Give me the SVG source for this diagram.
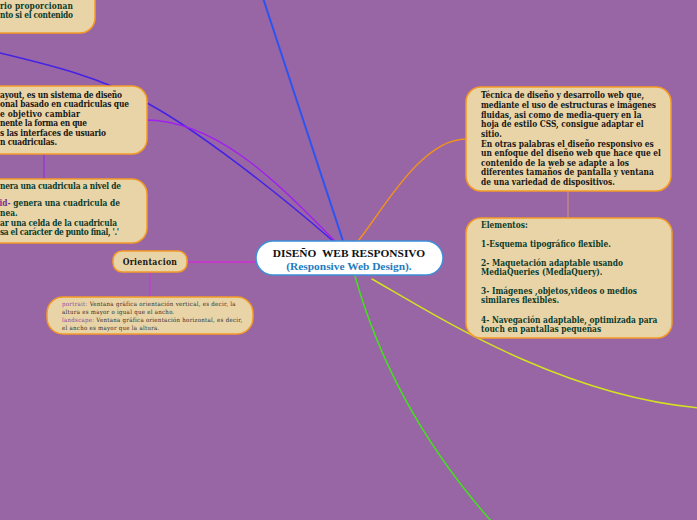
<svg xmlns="http://www.w3.org/2000/svg" width="697" height="520" viewBox="0 0 697 520">
<style>
.bg{fill:#9865a5}
.node{fill:#e9d4a7;stroke:#f39a26;stroke-width:1.5}
.t{font-family:"DejaVu Serif Condensed","DejaVu Serif",serif;font-stretch:condensed;font-weight:bold;font-size:8.3px}
.blk{fill:#161616}
.grn{fill:#0b3b2c}
.pur{fill:#7a2c8e}
.small{font-family:"DejaVu Serif Condensed","DejaVu Serif",serif;font-stretch:condensed;font-size:6px;letter-spacing:0.3px;fill:#2a2a2a}
.c{fill:none;stroke-linecap:round}
</style>
<rect class="bg" x="0" y="0" width="697" height="520"/>
<g id="connectors">
<path class="c" d="M343,241 Q300,110 263,-2" stroke="#2a55f0" stroke-width="2"/>
<path class="c" d="M0,53 C50,65 100,77 147,103 C197,130 273,189 333,241" stroke="#4422e6" stroke-width="1.5"/>
<path class="c" d="M145,120 C220,120 283,189 335,241" stroke="#a020ee" stroke-width="1.4"/>
<path class="c" d="M358,241 C380,215 420,139 466,139" stroke="#f0921e" stroke-width="1.4"/>
<path class="c" d="M355,276 C378,358 422,443 492,522" stroke="#44e020" stroke-width="1.5"/>
<path class="c" d="M372,279 C440,318 560,395 699,408" stroke="#d2e220" stroke-width="1.5"/>
<path class="c" d="M187,262 L257,262" stroke="#d22ed2" stroke-width="1.4"/>
<path class="c" d="M150,272 L150,297" stroke="#c040c6" stroke-width="1.2"/>
<path class="c" d="M44,154 L44,179" stroke="#9b30d6" stroke-width="1.2"/>
<path class="c" d="M568,191 L568,218" stroke="#d08c78" stroke-width="1.2"/>
</g>
<g id="node-top-left">
<rect class="node" x="-40" y="-30" width="135" height="63" rx="15"/>
<text class="t grn" x="0" y="9" textLength="73">rio proporcionan</text>
<text class="t grn" x="0" y="17.5" textLength="73">nto si el contenido</text>
</g>
<g id="node-grid">
<rect class="node" x="-40" y="86" width="187" height="68" rx="15"/>
<text class="t blk" x="0" y="97.5" textLength="122">ayout, es un sistema de diseño</text>
<text class="t blk" x="0" y="107" textLength="129">onal basado en cuadriculas que</text>
<text class="t blk" x="0" y="116.5" textLength="80">e objetivo cambiar</text>
<text class="t blk" x="0" y="126" textLength="87">nente la forma en que</text>
<text class="t blk" x="0" y="135.5" textLength="106">s las interfaces de usuario</text>
<text class="t blk" x="0" y="145" textLength="57">n cuadriculas.</text>
</g>
<g id="node-grid-areas">
<rect class="node" x="-40" y="179" width="187" height="64" rx="15"/>
<text class="t grn" x="0" y="189" textLength="121">nera una cuadricula a nivel de</text>
<text class="t grn" x="120" y="206" text-anchor="end"><tspan class="pur">id-</tspan> genera una cuadricula de</text>
<text class="t grn" x="0" y="216">nea.</text>
<text class="t grn" x="0" y="226" textLength="117">ar una celda de la cuadricula</text>
<text class="t grn" x="0" y="235" textLength="119">sa el carácter de punto final, '.'</text>
</g>
<g id="node-orientacion">
<rect class="node" x="113" y="251" width="74" height="21" rx="9"/>
<text class="t blk" x="150" y="264.5" text-anchor="middle" style="font-size:8.6px;letter-spacing:0.3px">Orientacion</text>
</g>
<g id="node-orientacion-detail">
<rect class="node" x="47" y="297" width="206" height="37" rx="16"/>
<text class="small" x="62" y="306"><tspan fill="#8a3fa0">portrait:</tspan> Ventana gráfica orientación vertical, es decir, la</text>
<text class="small" x="62" y="314">altura es mayor o igual que el ancho.</text>
<text class="small" x="62" y="321.5"><tspan fill="#8a3fa0">landscape:</tspan> Ventana gráfica orientación horizontal, es decir,</text>
<text class="small" x="62" y="329.5">el ancho es mayor que la altura.</text>
</g>
<g id="node-center">
<rect x="256" y="241" width="187" height="34" rx="17" fill="#ffffff" stroke="#3d8fd6" stroke-width="1.5"/>
<text x="349" y="257" text-anchor="middle" style="font-family:'Liberation Serif',serif;font-weight:bold;font-size:11.4px;fill:#111" xml:space="preserve">DISEÑO  WEB RESPONSIVO</text>
<text x="349" y="269.5" text-anchor="middle" style="font-family:'Liberation Serif',serif;font-weight:bold;font-size:11.4px;fill:#1f7cc0">(Responsive Web Design).</text>
</g>
<g id="node-definicion">
<rect class="node" x="466" y="87" width="205" height="104" rx="15"/>
<text class="t blk" x="481" y="98" textLength="163">Técnica de diseño y desarrollo web que,</text>
<text class="t blk" x="481" y="108" textLength="175">mediante el uso de estructuras e imágenes</text>
<text class="t blk" x="481" y="117.5">fluidas, asi como de media-query en la</text>
<text class="t blk" x="481" y="127">hoja de estilo CSS, consigue adaptar el</text>
<text class="t blk" x="481" y="136.5">sitio.</text>
<text class="t blk" x="481" y="146.5">En otras palabras el diseño responsivo es</text>
<text class="t blk" x="481" y="156">un enfoque del diseño web que hace que el</text>
<text class="t blk" x="481" y="165.5">contenido de la web se adapte a los</text>
<text class="t blk" x="481" y="175">diferentes tamaños de pantalla y ventana</text>
<text class="t blk" x="481" y="184.5">de una variedad de dispositivos.</text>
</g>
<g id="node-elementos">
<rect class="node" x="466" y="218" width="206" height="120" rx="15"/>
<text class="t grn" x="481" y="228">Elementos:</text>
<text class="t grn" x="481" y="247">1-Esquema tipográfico flexible.</text>
<text class="t grn" x="481" y="266">2- Maquetación adaptable usando</text>
<text class="t grn" x="481" y="275">MediaQueries (MediaQuery).</text>
<text class="t grn" x="481" y="293.5">3- Imágenes ,objetos,videos o medios</text>
<text class="t grn" x="481" y="303">similares flexibles.</text>
<text class="t grn" x="481" y="323">4- Navegación adaptable, optimizada para</text>
<text class="t grn" x="481" y="332">touch en pantallas pequeñas</text>
</g>
</svg>
